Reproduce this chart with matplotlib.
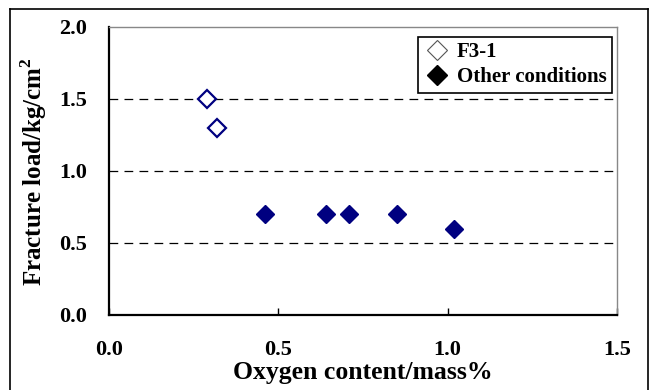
import matplotlib
matplotlib.use("Agg")
import matplotlib.pyplot as plt
from matplotlib.lines import Line2D

f31_x = [0.29, 0.32]
f31_y = [1.5, 1.3]
other_x = [0.46, 0.64, 0.71, 0.85, 1.02]
other_y = [0.7, 0.7, 0.7, 0.7, 0.6]
x_ticks = [0.0, 0.5, 1.0, 1.5]
y_ticks = [0.0, 0.5, 1.0, 1.5, 2.0]
grid_levels = [0.5, 1.0, 1.5]

plt.rcParams['font.family'] = ['Liberation Serif', 'DejaVu Serif']
plt.rcParams['font.weight'] = 'bold'

fig = plt.figure(figsize=(6.51, 3.90), dpi=100)
ax = fig.add_axes([109/651, 75/390, (617-109)/651, (315-27)/390])

# outer frame
fl, fr, ft = 10/651, 648/651, 1 - 9/390
fig.add_artist(Line2D([fl, fl], [-0.1, ft], transform=fig.transFigure, color='black', lw=1.2))
fig.add_artist(Line2D([fr, fr], [-0.1, ft], transform=fig.transFigure, color='black', lw=1.2))
fig.add_artist(Line2D([fl, fr], [ft, ft], transform=fig.transFigure, color='black', lw=1.2))

for g in grid_levels:
    ax.axhline(g, color='black', lw=0.9, ls=(0, (7, 5)), zorder=1)

navy = '#000080'
ax.plot(f31_x, f31_y, ls='none', marker='D', ms=9.5, mfc='white', mec=navy, mew=1.6, zorder=3)
ax.plot(other_x, other_y, ls='none', marker='D', ms=9.5, mfc=navy, mec=navy, mew=1, zorder=3)

ax.set_xlim(0, 1.5)
ax.set_ylim(0, 2.0)
ax.set_xticks(x_ticks)
ax.set_yticks(y_ticks)
ax.set_xticklabels([f"{v:.1f}" for v in x_ticks])
ax.set_yticklabels([f"{v:.1f}" for v in y_ticks])
ax.tick_params(axis='x', direction='in', length=5, width=1, pad=18, labelsize=16)
ax.tick_params(axis='y', direction='in', length=0, pad=16, labelsize=16)

for s in ['top', 'right']:
    ax.spines[s].set_color('#888888')
    ax.spines[s].set_linewidth(1.0)
for s in ['left', 'bottom']:
    ax.spines[s].set_color('black')
    ax.spines[s].set_linewidth(1.6)

fig.text(363/651, 1 - 373/390, 'Oxygen content/mass%', fontsize=18.5, fontweight='bold',
         ha='center', va='center')
fig.text(34/651, 1 - 172/390, 'Fracture load/kg/cm$^\\mathregular{2}$', fontsize=18,
         fontweight='bold', ha='center', va='center', rotation=90)

handles = [
    Line2D([], [], ls='none', marker='D', ms=10, mfc='white', mec='#555555', mew=0.8),
    Line2D([], [], ls='none', marker='D', ms=10, mfc='black', mec='black'),
]
leg = ax.legend(handles, ['F3-1', 'Other conditions'], loc='upper right',
                bbox_to_anchor=(0.99, 0.965), fancybox=False, framealpha=1,
                edgecolor='black', prop={'size': 15, 'weight': 'bold'},
                handletextpad=0.3, handlelength=1.3, borderpad=0.25, labelspacing=0.25,
                borderaxespad=0)
leg.get_frame().set_linewidth(1.2)

fig.savefig('out.png', dpi=100)
